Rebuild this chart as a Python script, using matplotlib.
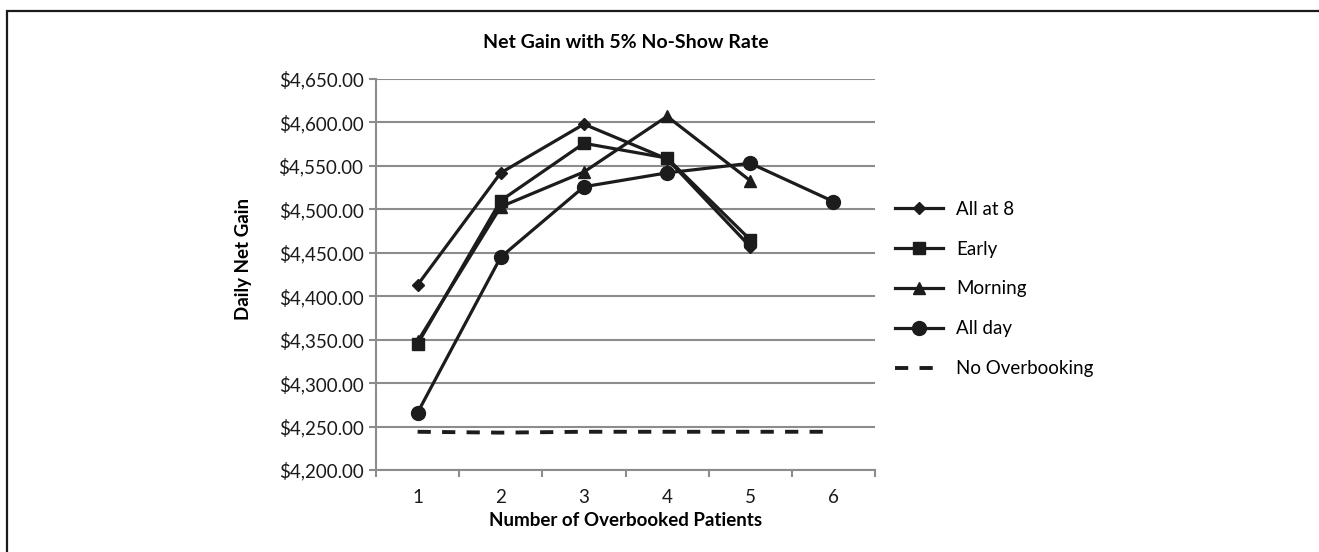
import matplotlib
matplotlib.use("Agg")
import matplotlib.pyplot as plt
from matplotlib.patches import Rectangle
from matplotlib.ticker import FuncFormatter, MultipleLocator

plt.rcParams['font.family'] = ['Lato', 'DejaVu Sans']

patients = [1, 2, 3, 4, 5, 6]
all_at_8 = [4413, 4542, 4598, 4558, 4457]
early = [4345, 4510, 4576, 4559, 4465]
morning = [4348, 4503, 4543, 4607, 4533]
all_day = [4266, 4445, 4526, 4542, 4553, 4509]
no_overbooking = [4244, 4243, 4244, 4244, 4244, 4244]

W, H = 1319, 552
fig = plt.figure(figsize=(W / 100, H / 100), dpi=100)
ax = fig.add_axes([376 / W, 1 - 470 / H, (875 - 376) / W, (470 - 79) / H])

line_kw = dict(color='#1c1c1c', lw=2.3)
ax.plot(patients[:5], all_at_8, marker='D', ms=6.5, label='All at 8', **line_kw)
ax.plot(patients[:5], early, marker='s', ms=9, label='Early', **line_kw)
ax.plot(patients[:5], morning, marker='^', ms=9, label='Morning', **line_kw)
ax.plot(patients, all_day, marker='o', ms=10, label='All day', **line_kw)
ax.plot(patients, no_overbooking, ls=(0, (3.4, 2.9)), color='#1c1c1c', lw=2.8,
        label='No Overbooking')

grid_c = '#8c8c8c'
fs = 13.5
ax.set_xlim(0.5, 6.5)
ax.set_ylim(4200, 4650)
ax.yaxis.set_major_locator(MultipleLocator(50))
ax.yaxis.set_major_formatter(FuncFormatter(lambda v, p: f"${v:,.2f}"))
ax.set_xticks(patients)
ax.set_xticks([0.5 + i for i in range(7)], minor=True)
ax.tick_params(axis='x', which='major', length=0, pad=14, labelsize=fs, colors='#1a1a1a')
ax.tick_params(axis='x', which='minor', length=5, width=1.5, color=grid_c)
ax.tick_params(axis='y', length=5, width=1.5, color=grid_c, labelsize=fs,
               labelcolor='#1a1a1a', pad=4)
ax.grid(axis='y', color=grid_c, lw=1.5)
ax.set_axisbelow(True)
for side in ['top', 'right']:
    ax.spines[side].set_visible(False)
for side in ['left', 'bottom']:
    ax.spines[side].set_color(grid_c)
    ax.spines[side].set_linewidth(1.5)

ax.set_title('Net Gain with 5% No-Show Rate', fontsize=14, fontweight='bold', pad=22)
ax.set_xlabel('Number of Overbooked Patients', fontsize=fs, fontweight='bold', labelpad=4)
ax.set_ylabel('Daily Net Gain', fontsize=fs, fontweight='bold')
ax.yaxis.set_label_coords(-0.248, 0.54)

# legend sits to the right of the plot, no frame
ax.legend(loc='center left', bbox_to_anchor=(1.040, 0.463), frameon=False, fontsize=fs,
          borderpad=0, borderaxespad=0, handlelength=2.56, handletextpad=0.7,
          labelspacing=1.22)

# outer frame, cut off at right and bottom like the source image
fig.add_artist(Rectangle((7 / W, -0.1), 1.2, 1.1 - 11 / H, transform=fig.transFigure,
                         fill=False, ec='#1a1a1a', lw=1.6))

fig.savefig('out.png', dpi=100)
